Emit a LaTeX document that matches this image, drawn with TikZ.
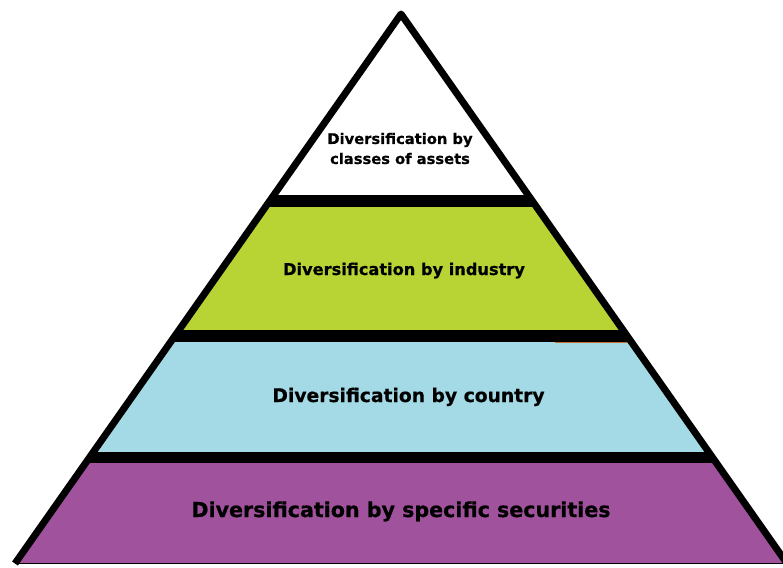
\documentclass[tikz,border=0pt]{standalone}
\usepackage{fontspec}
\newfontfamily\lblfont{DejaVu Sans}[BoldFeatures={FakeBold=0.6}]
\definecolor{lvlgreen}{RGB}{184,212,52}
\definecolor{lvlblue}{RGB}{164,218,230}
\definecolor{lvlpurple}{RGB}{161,82,157}
\definecolor{smudge}{RGB}{196,112,48}

\begin{document}
\begin{tikzpicture}[x=1pt,y=1pt]
\tikzstyle{every node}+=[inner sep=0pt]
\tikzstyle{lvl}=[text=black, anchor=base]
\useasboundingbox (0,0) rectangle (783,-567);
\begin{scope}
\clip (0,0) rectangle (783,-567);
% levels of the pyramid
\begin{scope}
\clip (401,-14) -- (15,-563.5) -- (787,-563.5) -- cycle;
\fill [white] (0,0) rectangle (783,-195);
\fill [lvlgreen] (0,-207) rectangle (783,-330);
\fill [lvlblue] (0,-342) rectangle (783,-452);
\fill [lvlpurple] (0,-463) rectangle (783,-564);
\fill [black] (0,-195) rectangle (783,-207);
\fill [black] (0,-330) rectangle (783,-342);
\fill [black] (0,-452) rectangle (783,-463);
\draw [smudge, line width=1] (555,-342.5) -- (630,-342.5);
\end{scope}
% outline
\draw [black, line width=7, line join=round] (15,-563.5) -- (401,-14) -- (787,-563.5);
\draw [black, line width=1.5] (15,-563.5) -- (787,-563.5);
\end{scope}
% labels
\node [lvl, anchor=center, align=center, font=\lblfont\bfseries\fontsize{14.7}{20}\selectfont] (classes) at (400,-148.5) {Diversification by\\classes of assets};
\node [lvl, font=\lblfont\bfseries\fontsize{16.2}{19}\selectfont] (industry) at (404,-275) {Diversification by industry};
\node [lvl, font=\lblfont\bfseries\fontsize{18.7}{22}\selectfont] (country) at (408.5,-402) {Diversification by country};
\node [lvl, font=\lblfont\bfseries\fontsize{20.6}{24}\selectfont] (securities) at (401,-517) {Diversification by specific securities};
\end{tikzpicture}
\end{document}
